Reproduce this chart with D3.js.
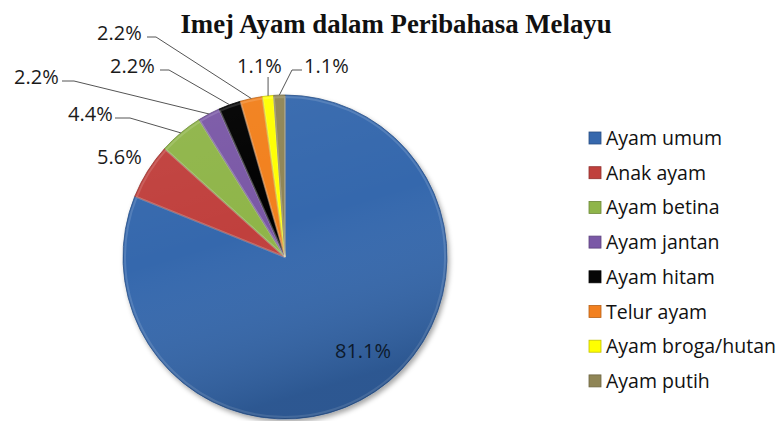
<!DOCTYPE html>
<html>
<head>
<meta charset="utf-8">
<script src="https://cdn.jsdelivr.net/npm/d3@7"></script>
<style>
  body { margin: 0; background: #fff; }
  svg { display: block; }
</style>
</head>
<body>
<div id="chart"></div>
<script>
// Data (counts out of 90 proverbs)
const categories = ["Ayam umum", "Anak ayam", "Ayam betina", "Ayam jantan",
  "Ayam hitam", "Telur ayam", "Ayam broga/hutan", "Ayam putih"];
const counts = [73, 5, 4, 2, 2, 2, 1, 1];
const percentLabels = ["81.1%", "5.6%", "4.4%", "2.2%", "2.2%", "2.2%", "1.1%", "1.1%"];
const colors = ["#3668ad", "#c0413d", "#8fb54a", "#7a58a6", "#060606", "#f2801f", "#ffff00", "#8f8556"];

const W = 780, H = 421;
const cx = 285, cy = 257, R = 162;

// label layout: text start x, baseline y, leader elbow x's
const labelLayout = [
  { x: 363, y: 358, anchor: "middle", inside: true },
  { x: 97, y: 164 },
  { x: 68, y: 121, lead: [115, 130] },
  { x: 14, y: 84, lead: [62, 74] },
  { x: 110, y: 73, lead: [160, 169] },
  { x: 97, y: 40, lead: [147, 156] },
  { x: 237, y: 73, vert: true },
  { x: 304, y: 73, lead: [302, 292] }
];

const data = categories.map((c, i) => ({ name: c, value: counts[i], label: percentLabels[i], color: colors[i] }));

const svg = d3.select("#chart").append("svg")
  .attr("width", W).attr("height", H);

const defs = svg.append("defs");

// soft shading across the pie
const shade = defs.append("linearGradient").attr("id", "shade")
  .attr("x1", 0).attr("y1", 0).attr("x2", 0.3).attr("y2", 1);
shade.append("stop").attr("offset", "0%").attr("stop-color", "#fff").attr("stop-opacity", 0.05);
shade.append("stop").attr("offset", "50%").attr("stop-color", "#fff").attr("stop-opacity", 0);
shade.append("stop").attr("offset", "100%").attr("stop-color", "#000").attr("stop-opacity", 0.16);

const filt = defs.append("filter").attr("id", "shadow")
  .attr("x", "-10%").attr("y", "-10%").attr("width", "130%").attr("height", "130%");
filt.append("feDropShadow").attr("dx", 2).attr("dy", 3).attr("stdDeviation", 2.5)
  .attr("flood-color", "#000").attr("flood-opacity", 0.35);

// Title
svg.append("text")
  .attr("x", 396).attr("y", 33)
  .attr("text-anchor", "middle")
  .style("font-family", "'Liberation Serif', 'Times New Roman', serif")
  .style("font-weight", "bold")
  .style("font-size", "26.8px")
  .style("fill", "#111")
  .text("Imej Ayam dalam Peribahasa Melayu");

const pie = d3.pie().sort(null).value(d => d.value);
const arcs = pie(data);
const arc = d3.arc().innerRadius(0).outerRadius(R);
const edgeArc = d3.arc().innerRadius(R).outerRadius(R);

const g = svg.append("g").attr("transform", `translate(${cx},${cy})`);

const slices = g.append("g").attr("filter", "url(#shadow)");
slices.selectAll("path.slice")
  .data(arcs)
  .enter().append("path")
  .attr("class", "slice")
  .attr("d", arc)
  .attr("fill", d => d.data.color)
  .attr("stroke", d => d3.color(d.data.color).darker(0.7))
  .attr("stroke-width", 0.8);

// bevel highlight along edges
g.selectAll("path.bevel")
  .data(arcs)
  .enter().append("path")
  .attr("class", "bevel")
  .attr("d", d3.arc().innerRadius(0).outerRadius(R - 2))
  .attr("fill", "none")
  .attr("stroke", "#fff")
  .attr("stroke-opacity", 0.14)
  .attr("stroke-width", 2);

g.append("circle").attr("r", R).attr("fill", "url(#shade)").style("pointer-events", "none");

// labels + leader lines
const labelFont = "'Open Sans', 'Noto Sans', sans-serif";
arcs.forEach((d, i) => {
  const L = labelLayout[i];
  const p = edgeArc.centroid(d);
  const px = cx + p[0], py = cy + p[1];
  if (L.lead) {
    const ly = L.y - 3;
    svg.append("polyline")
      .attr("points", `${L.lead[0]},${ly} ${L.lead[1]},${ly} ${px},${py}`)
      .attr("fill", "none").attr("stroke", "#555").attr("stroke-width", 1);
  }
  if (L.vert) {
    svg.append("line")
      .attr("x1", px).attr("y1", L.y + 4).attr("x2", px).attr("y2", py)
      .attr("stroke", "#555").attr("stroke-width", 1);
  }
  svg.append("text")
    .attr("x", L.x).attr("y", L.y)
    .attr("text-anchor", L.anchor || "start")
    .style("font-family", labelFont)
    .style("font-size", "20px")
    .style("fill", L.inside ? "#0d1a2c" : "#1a1a1a")
    .text(d.data.label);
});

// Legend
const legend = svg.append("g").attr("transform", "translate(589,138)");
const rowH = 34.7;
const item = legend.selectAll("g.item")
  .data(data)
  .enter().append("g")
  .attr("class", "item")
  .attr("transform", (d, i) => `translate(0,${i * rowH})`);

item.append("rect")
  .attr("x", 0).attr("y", -6).attr("width", 12).attr("height", 12)
  .attr("fill", d => d.color)
  .attr("stroke", d => d3.color(d.color).darker(0.8))
  .attr("stroke-width", 0.8);

item.append("text")
  .attr("x", 17).attr("y", 7)
  .style("font-family", labelFont)
  .style("font-size", "19.5px")
  .style("fill", "#111")
  .text(d => d.name);
</script>
</body>
</html>
